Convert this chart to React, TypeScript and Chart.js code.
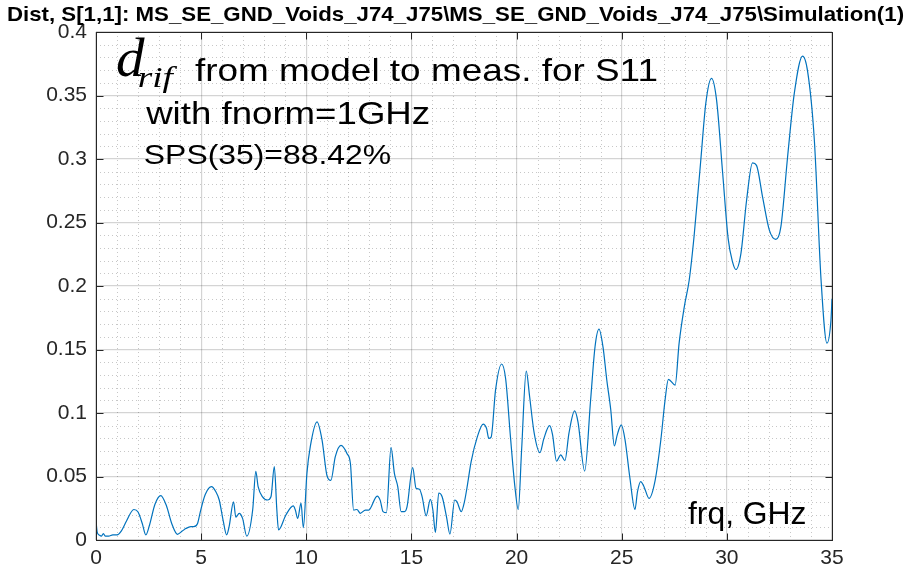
import React, { useEffect, useRef } from "react";
import { Chart, registerables } from "chart.js";

Chart.register(...registerables);

const TITLE = "Dist, S[1,1]: MS_SE_GND_Voids_J74_J75\\MS_SE_GND_Voids_J74_J75\\Simulation(1)";

// Frequency samples (GHz) and the model-to-measurement distance at each one
const frequencyGHz = [
  0.0, 0.06, 0.15, 0.25, 0.35, 0.45, 0.6, 0.8, 1.0, 1.2, 1.45, 1.8, 2.0, 2.2, 2.37, 2.55, 2.8, 3.08, 3.35, 3.6,
  3.87, 4.1, 4.27, 4.51, 4.65, 4.83, 4.98, 5.2, 5.49, 5.7, 5.86, 6.05, 6.21, 6.33, 6.54, 6.65, 6.81, 6.97, 7.17, 7.45,
  7.6, 7.71, 7.92, 8.16, 8.32, 8.48, 8.6, 8.68, 9.03, 9.38, 9.48, 9.59, 9.75, 9.86, 10.03, 10.19, 10.51, 10.75, 10.98, 11.17,
  11.38, 11.65, 11.94, 12.1, 12.25, 12.41, 12.57, 12.81, 12.97, 13.37, 13.52, 13.65, 13.81, 14.03, 14.19, 14.35, 14.51, 14.67, 14.79, 15.06,
  15.22, 15.38, 15.51, 15.7, 15.9, 16.02, 16.14, 16.3, 16.46, 16.67, 16.83, 17.06, 17.17, 17.37, 17.52, 17.65, 17.84, 18.13, 18.41, 18.57,
  18.68, 18.79, 19.0, 19.29, 19.48, 19.71, 19.92, 20.08, 20.24, 20.46, 20.62, 20.83, 21.11, 21.3, 21.57, 21.71, 21.9, 22.1, 22.3, 22.49,
  22.76, 22.92, 23.24, 23.52, 23.73, 23.92, 24.11, 24.29, 24.48, 24.65, 24.79, 24.98, 25.16, 25.38, 25.63, 25.75, 25.9, 26.06, 26.3, 26.59,
  26.86, 27.06, 27.22, 27.54, 27.73, 27.97, 28.21, 28.44, 28.76, 29.0, 29.27, 29.51, 29.8, 30.06, 30.27, 30.43, 30.67, 30.94, 31.22, 31.41,
  31.7, 32.02, 32.33, 32.57, 32.89, 33.21, 33.6, 33.84, 34.16, 34.48, 34.76, 34.95, 35.0,
];

const distance = [
  0.015, 0.006, 0.004, 0.003, 0.005, 0.003, 0.003, 0.004, 0.004, 0.007, 0.015, 0.024, 0.022, 0.013, 0.004, 0.012, 0.028, 0.035, 0.027, 0.013,
  0.0045, 0.007, 0.009, 0.0105, 0.0105, 0.013, 0.0236, 0.036, 0.042, 0.038, 0.0315, 0.015, 0.004, 0.0105, 0.03, 0.018, 0.021, 0.017, 0.003, 0.0236,
  0.054, 0.042, 0.034, 0.0315, 0.034, 0.0577, 0.0236, 0.0079, 0.0197, 0.0268, 0.0236, 0.017, 0.029, 0.0097, 0.0525, 0.0735, 0.093, 0.0787, 0.051, 0.047,
  0.0656, 0.0745, 0.068, 0.06, 0.0236, 0.024, 0.021, 0.0236, 0.0236, 0.0346, 0.031, 0.0223, 0.0215, 0.073, 0.0525, 0.042, 0.0223, 0.0223, 0.026, 0.057,
  0.0407, 0.04, 0.034, 0.019, 0.032, 0.0236, 0.006, 0.037, 0.034, 0.018, 0.0047, 0.0315, 0.03, 0.0223, 0.03, 0.042, 0.0617, 0.081, 0.0913, 0.088,
  0.08, 0.081, 0.118, 0.1386, 0.127, 0.081, 0.042, 0.024, 0.071, 0.133, 0.113, 0.085, 0.0688, 0.08, 0.09, 0.083, 0.062, 0.067, 0.0625, 0.084,
  0.1016, 0.093, 0.0543, 0.11, 0.152, 0.166, 0.152, 0.126, 0.1024, 0.074, 0.083, 0.0906, 0.0787, 0.05, 0.024, 0.038, 0.046, 0.042, 0.0328, 0.047,
  0.0787, 0.11, 0.1265, 0.122, 0.155, 0.183, 0.2047, 0.239, 0.299, 0.344, 0.3635, 0.3465, 0.289, 0.2375, 0.219, 0.213, 0.2257, 0.2677, 0.297, 0.295,
  0.27, 0.244, 0.2367, 0.2467, 0.302, 0.352, 0.381, 0.369, 0.315, 0.2047, 0.155, 0.173, 0.19,
];

const xTicks = [0, 5, 10, 15, 20, 25, 30, 35];
const yTicks = [0, 0.05, 0.1, 0.15, 0.2, 0.25, 0.3, 0.35, 0.4];

const AXIS_COLOR = "#262626";
const SANS = "'Liberation Sans', Arial, sans-serif";
const SERIF = "'Liberation Serif', 'Times New Roman', serif";

// Draw text so that its ink starts at x and spans the given width
function fitText(ctx: CanvasRenderingContext2D, text: string, font: string, x: number, y: number, width: number) {
  ctx.font = font;
  ctx.textAlign = "left";
  ctx.textBaseline = "alphabetic";
  const m = ctx.measureText(text);
  const ink = m.actualBoundingBoxLeft + m.actualBoundingBoxRight;
  const s = width / ink;
  ctx.save();
  ctx.translate(x, y);
  ctx.scale(s, 1);
  ctx.fillText(text, m.actualBoundingBoxLeft, 0);
  ctx.restore();
}

const framePlugin = {
  id: "frame",
  beforeDatasetsDraw(chart: any) {
    const { ctx, chartArea: a, scales } = chart;
    const x = scales.x;
    const y = scales.y;
    ctx.save();
    ctx.strokeStyle = "rgba(0,0,0,0.22)";
    ctx.lineWidth = 1;
    ctx.setLineDash([1, 3]);
    for (let f = 1; f < 35; f++) {
      if (f % 5 === 0) continue;
      const px = Math.round(x.getPixelForValue(f)) + 0.5;
      ctx.beginPath();
      ctx.moveTo(px, a.top);
      ctx.lineTo(px, a.bottom);
      ctx.stroke();
    }
    for (let k = 1; k < 40; k++) {
      if (k % 5 === 0) continue;
      const py = Math.round(y.getPixelForValue(k / 100)) + 0.5;
      ctx.beginPath();
      ctx.moveTo(a.left, py);
      ctx.lineTo(a.right, py);
      ctx.stroke();
    }
    ctx.restore();
  },
  afterDraw(chart: any) {
    const { ctx, chartArea: a, scales } = chart;
    const x = scales.x;
    const y = scales.y;
    const L = Math.round(a.left) + 0.5;
    const R = Math.round(a.right) + 0.5;
    const T = Math.round(a.top) + 0.5;
    const B = Math.round(a.bottom) + 0.5;
    const tick = 7;
    ctx.save();
    ctx.strokeStyle = AXIS_COLOR;
    ctx.lineWidth = 1;
    ctx.strokeRect(L, T, R - L, B - T);
    ctx.beginPath();
    xTicks.forEach((v) => {
      const px = Math.round(x.getPixelForValue(v)) + 0.5;
      ctx.moveTo(px, B);
      ctx.lineTo(px, B - tick);
      ctx.moveTo(px, T);
      ctx.lineTo(px, T + tick);
    });
    yTicks.forEach((v) => {
      const py = Math.round(y.getPixelForValue(v)) + 0.5;
      ctx.moveTo(L, py);
      ctx.lineTo(L + tick, py);
      ctx.moveTo(R, py);
      ctx.lineTo(R - tick, py);
    });
    ctx.stroke();

    ctx.fillStyle = "#000";
    fitText(ctx, TITLE, `bold 21px ${SANS}`, 8, 21, 895);
    fitText(ctx, "d", `italic 55px ${SERIF}`, 117, 76, 28);
    fitText(ctx, "rif", `italic 29px ${SERIF}`, 139, 87, 39);
    fitText(ctx, "from model to meas. for S11", `32px ${SANS}`, 195, 81, 462);
    fitText(ctx, "with fnorm=1GHz", `32px ${SANS}`, 145, 124, 284);
    fitText(ctx, "SPS(35)=88.42%", `28px ${SANS}`, 145, 164, 245);
    fitText(ctx, "frq, GHz", `31px ${SANS}`, 688, 524, 117);
    ctx.restore();
  },
};

export default function App() {
  const canvasRef = useRef<HTMLCanvasElement | null>(null);

  useEffect(() => {
    const canvas = canvasRef.current;
    if (!canvas) return;
    const points = frequencyGHz.map((f, i) => ({ x: f, y: distance[i] }));
    const chart = new Chart(canvas, {
      type: "line",
      data: {
        datasets: [
          {
            data: points,
            borderColor: "#0072BD",
            borderWidth: 1.2,
            pointRadius: 0,
            fill: false,
            cubicInterpolationMode: "monotone",
          },
        ],
      },
      options: {
        animation: false,
        responsive: false,
        devicePixelRatio: 1,
        layout: { padding: { left: 0, right: 87, top: 32, bottom: 0 } },
        plugins: {
          legend: { display: false },
          title: { display: false },
          tooltip: { enabled: false },
        },
        scales: {
          x: {
            type: "linear",
            min: 0,
            max: 35,
            afterBuildTicks: (s: any) => {
              s.ticks = xTicks.map((v) => ({ value: v }));
            },
            afterFit: (s: any) => {
              s.height = 32;
            },
            border: { display: false },
            grid: { color: "rgba(0,0,0,0.17)", lineWidth: 1.2, drawTicks: false },
            ticks: {
              autoSkip: false,
              maxRotation: 0,
              padding: 6,
              color: AXIS_COLOR,
              font: { family: SANS, size: 21 },
              callback: (v: any) => String(v),
            },
          },
          y: {
            type: "linear",
            min: 0,
            max: 0.4,
            afterBuildTicks: (s: any) => {
              s.ticks = yTicks.map((v) => ({ value: v }));
            },
            afterFit: (s: any) => {
              s.width = 96;
            },
            border: { display: false },
            grid: { color: "rgba(0,0,0,0.17)", lineWidth: 1.2, drawTicks: false },
            ticks: {
              autoSkip: false,
              padding: 9,
              color: AXIS_COLOR,
              font: { family: SANS, size: 21 },
              callback: (v: any) => String(Number(Number(v).toFixed(2))),
            },
          },
        },
      },
      plugins: [framePlugin],
    } as any);
    return () => chart.destroy();
  }, []);

  return (
    <div style={{ position: "fixed", left: 0, top: 0, width: 919, height: 572, background: "#fff" }}>
      <canvas ref={canvasRef} width={919} height={572} style={{ display: "block" }} />
    </div>
  );
}
